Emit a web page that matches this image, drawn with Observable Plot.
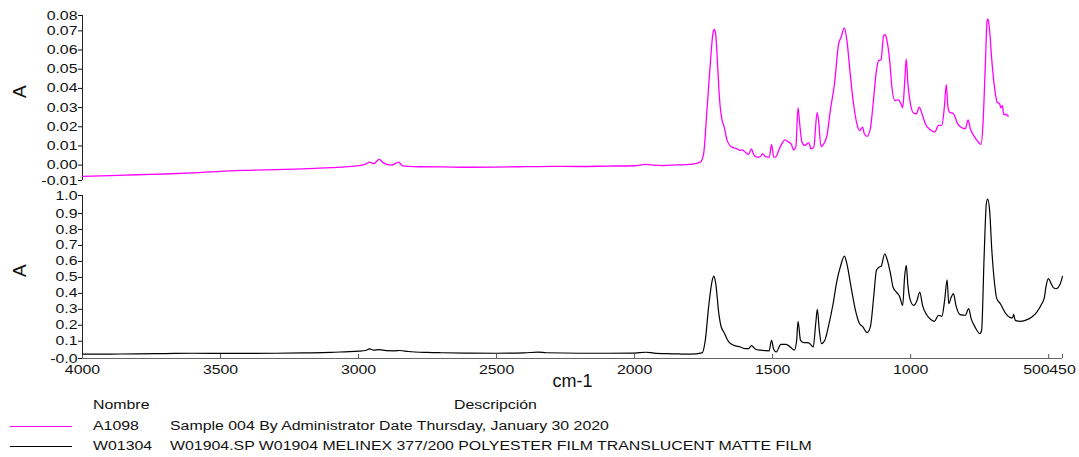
<!DOCTYPE html>
<html><head><meta charset="utf-8">
<script src="https://cdn.jsdelivr.net/npm/d3@7"></script>
<script src="https://cdn.jsdelivr.net/npm/@observablehq/plot@0.6"></script>
<style>
body{margin:0;background:#fff;}
#wrap{position:relative;width:1079px;height:457px;overflow:hidden;font-family:"Liberation Sans",Arial,sans-serif;color:#111;}
#top,#bot{position:absolute;left:0;}
#top{top:0}#bot{top:185px}
.lg{position:absolute;font-size:12.5px;line-height:12.5px;white-space:nowrap;transform:scaleX(1.27);transform-origin:0 50%;}
.sw{position:absolute;height:0;border-top:1px solid;}
</style></head>
<body><div id="wrap"><div id="top"></div><div id="bot"></div><div id="legend"></div></div>
<script>
// ---- data ----
const xDomain = [4000, 450];
const xTicks = [4000, 3500, 3000, 2500, 2000, 1500, 1000, 500, 450];
const yTopDomain = [-0.008, 0.078];
const yTopTicks = [-0.008, 0, 0.01, 0.02, 0.03, 0.04, 0.05, 0.06, 0.07, 0.078];
const yBotDomain = [-0.008, 1.013];
const yBotTicks = [-0.008, 0.1, 0.2, 0.3, 0.4, 0.5, 0.6, 0.7, 0.8, 0.9, 1.013];
const xLabel = "cm-1";
const yLabel = "A";
const seriesNames = ["A1098", "W01304"];
const seriesDesc = ["Sample 004 By Administrator Date Thursday, January 30 2020",
  "W01904.SP W01904 MELINEX 377/200 POLYESTER FILM TRANSLUCENT MATTE FILM"];
const legendHead = ["Nombre", "Descripción"];

const topWn = [4000,3900,3800,3700,3600,3500,3400,3300,3200,3100,3050,3000,2975,2960,2945,2925,2910,2880,2855,2840,2800,2700,2600,2500,2400,2300,2200,2100,2000,1960,1930,1900,1850,1798,1762,1750,1738,1725,1716,1711,1706,1699,1692,1683,1677,1665,1651,1629,1617,1611,1593,1587,1577,1569,1557,1544,1537,1526,1512,1504,1496,1489,1478,1470,1454,1442,1433,1424,1416,1408,1402,1394,1384,1369,1361,1351,1339,1333,1325,1315,1303,1291,1276,1261,1252,1240,1231,1219,1207,1195,1185,1174,1168,1158,1146,1136,1124,1116,1107,1098,1092,1086,1076,1068,1058,1044,1035,1029,1022,1016,1010,1001,989,979,969,959,947,929,913,899,887,878,871,865,859,845,830,818,802,792,784,772,760,745,738,729,723,720,714,706,693,687,678,673,668,663,653,647];
const topAbs = [-0.0058,-0.0055,-0.0050,-0.0046,-0.0040,-0.0032,-0.0027,-0.0023,-0.0019,-0.0013,-0.0009,-0.0003,0.0005,0.0016,0.0008,0.0030,0.0012,0.0000,0.0016,-0.0004,-0.0008,-0.0009,-0.0011,-0.0010,-0.0008,-0.0006,-0.0007,-0.0005,-0.0003,0.0004,0.0000,-0.0002,0.0001,0.0004,0.0016,0.0060,0.0285,0.0545,0.0690,0.0707,0.0680,0.0510,0.0337,0.0233,0.0207,0.0129,0.0097,0.0085,0.0077,0.0080,0.0060,0.0056,0.0085,0.0056,0.0042,0.0045,0.0060,0.0045,0.0042,0.0108,0.0042,0.0042,0.0077,0.0103,0.0132,0.0120,0.0111,0.0080,0.0094,0.0299,0.0216,0.0120,0.0103,0.0117,0.0085,0.0094,0.0273,0.0224,0.0097,0.0111,0.0155,0.0285,0.0424,0.0632,0.0667,0.0716,0.0650,0.0476,0.0320,0.0216,0.0180,0.0198,0.0164,0.0150,0.0190,0.0320,0.0493,0.0545,0.0550,0.0676,0.0680,0.0650,0.0545,0.0406,0.0337,0.0340,0.0320,0.0299,0.0424,0.0554,0.0424,0.0320,0.0271,0.0268,0.0302,0.0268,0.0216,0.0184,0.0172,0.0207,0.0207,0.0302,0.0420,0.0302,0.0276,0.0268,0.0216,0.0198,0.0190,0.0236,0.0190,0.0155,0.0129,0.0108,0.0216,0.0545,0.0754,0.0762,0.0702,0.0545,0.0372,0.0328,0.0320,0.0299,0.0311,0.0264,0.0264,0.0254];

const botWn = [4000,3900,3800,3700,3600,3500,3400,3300,3200,3100,3050,3000,2975,2960,2945,2925,2900,2870,2850,2820,2750,2700,2600,2500,2400,2350,2320,2200,2100,2000,1960,1930,1880,1830,1798,1756,1744,1732,1719,1713,1706,1695,1687,1677,1659,1641,1617,1599,1587,1577,1562,1544,1513,1504,1496,1487,1470,1451,1436,1421,1413,1408,1399,1387,1369,1353,1344,1338,1331,1323,1311,1297,1281,1267,1255,1240,1231,1216,1200,1185,1173,1158,1146,1134,1124,1115,1107,1094,1086,1073,1064,1052,1040,1029,1022,1016,1010,1001,989,977,967,957,941,926,914,899,887,877,868,862,853,845,836,821,802,790,781,767,749,743,734,726,721,714,706,696,688,675,657,639,631,627,621,603,585,561,543,525,516,509,501,492,483,473,458,450];
const botAbs = [0.020,0.020,0.021,0.023,0.025,0.024,0.024,0.025,0.027,0.030,0.034,0.038,0.042,0.052,0.044,0.047,0.041,0.040,0.042,0.036,0.030,0.028,0.026,0.025,0.027,0.032,0.028,0.025,0.025,0.026,0.031,0.026,0.022,0.020,0.019,0.027,0.106,0.314,0.480,0.508,0.460,0.273,0.194,0.158,0.096,0.075,0.064,0.054,0.054,0.073,0.050,0.044,0.040,0.106,0.048,0.033,0.081,0.081,0.064,0.044,0.106,0.225,0.106,0.092,0.090,0.064,0.210,0.300,0.169,0.085,0.106,0.200,0.335,0.480,0.564,0.633,0.585,0.440,0.294,0.210,0.190,0.154,0.190,0.377,0.544,0.564,0.570,0.648,0.617,0.523,0.440,0.408,0.381,0.325,0.502,0.575,0.450,0.356,0.325,0.356,0.408,0.325,0.263,0.235,0.225,0.263,0.256,0.356,0.485,0.335,0.377,0.398,0.325,0.267,0.263,0.304,0.242,0.190,0.148,0.169,0.627,0.960,0.990,0.920,0.670,0.460,0.367,0.335,0.277,0.248,0.246,0.269,0.231,0.225,0.231,0.252,0.283,0.335,0.371,0.450,0.492,0.464,0.436,0.429,0.460,0.506];

const colors = ["#ff00ff", "#000000"];

// ---- helpers ----
// keep the sign of small negative values (e.g. "-0.0"), with an ASCII hyphen
const fmtN = p => d => (d < 0 ? "-" : "") + d3.format(`.${p}f`)(Math.abs(d));
const fmt2 = fmtN(2);
const fmt1 = fmtN(1);
// widen glyphs horizontally around each text's own anchor point
function stretch(svg, k, skip) {
  svg.querySelectorAll("text").forEach(t => {
    if (skip.includes(t.textContent)) return;
    let x = parseFloat(t.getAttribute("x"));
    if (!isFinite(x)) x = 0;
    const tr = t.getAttribute("transform") || "";
    t.setAttribute("transform", `${tr} translate(${x},0) scale(${k},1) translate(${-x},0)`.trim());
  });
}
const style = {fontFamily: "Liberation Sans, Arial, sans-serif", fontSize: "12.5px", color: "#111", background: "transparent", overflow: "visible"};

const topData = topWn.map((w, i) => ({w, a: topAbs[i]}));
const botData = botWn.map((w, i) => ({w, a: botAbs[i]}));

const topPlot = Plot.plot({
  width: 1079, height: 185, marginLeft: 82, marginRight: 17, marginTop: 15, marginBottom: 5,
  style,
  x: {domain: xDomain, axis: null},
  y: {domain: yTopDomain, ticks: yTopTicks, tickFormat: fmt2, tickSize: 4, tickPadding: 1, label: null},
  marks: [
    Plot.ruleX([xDomain[0]], {stroke: "#222"}),
    Plot.line(topData, {x: "w", y: "a", stroke: colors[0], strokeWidth: 1.3, curve: "monotone-x"}),
    Plot.text([yLabel], {text: d => d, frameAnchor: "left", dx: -63, rotate: -90, fontSize: 19})
  ]
});
stretch(topPlot, 1.27, [yLabel, xLabel]);
document.getElementById("top").appendChild(topPlot);

const botPlot = Plot.plot({
  width: 1079, height: 215, marginLeft: 82, marginRight: 17, marginTop: 10, marginBottom: 42,
  style,
  x: {domain: xDomain, axis: null},
  y: {domain: yBotDomain, ticks: yBotTicks, tickFormat: fmt1, tickSize: 4, tickPadding: 1, label: null},
  marks: [
    Plot.ruleX([xDomain[0]], {stroke: "#222"}),
    Plot.ruleY([yBotDomain[0]], {stroke: "#666"}),
    Plot.tickX(xTicks, {x: d => d, insetTop: 159, stroke: "#555"}),
    Plot.text(xTicks.filter(d => d !== 500), {x: d => d, text: d => String(d), frameAnchor: "bottom", dy: 15}),
    Plot.text(xTicks.filter(d => d === 500), {x: d => d, text: d => String(d), frameAnchor: "bottom", dy: 15, dx: 1, textAnchor: "end"}),
    Plot.line(botData, {x: "w", y: "a", stroke: colors[1], strokeWidth: 1.2, curve: "monotone-x"}),
    Plot.text([yLabel], {text: d => d, frameAnchor: "left", dx: -63, rotate: -90, fontSize: 19}),
    Plot.text([xLabel], {text: d => d, frameAnchor: "bottom", dy: 28, fontSize: 18})
  ]
});
stretch(botPlot, 1.27, [yLabel, xLabel]);
document.getElementById("bot").appendChild(botPlot);

// ---- legend ----
const lg = document.getElementById("legend");
function addText(txt, left, top) {
  const s = document.createElement("div");
  s.className = "lg"; s.textContent = txt;
  s.style.left = left + "px"; s.style.top = top + "px";
  lg.appendChild(s);
}
addText(legendHead[0], 93, 399);
addText(legendHead[1], 454, 399);
seriesNames.forEach((n, i) => {
  const y = 426 + i * 20;
  const sw = document.createElement("div");
  sw.className = "sw";
  sw.style.left = "10px"; sw.style.width = "62px"; sw.style.top = y + "px";
  sw.style.borderTopColor = colors[i];
  lg.appendChild(sw);
  addText(n, 93, y - 6);
  addText(seriesDesc[i], 170, y - 6);
});
</script>
</body></html>
